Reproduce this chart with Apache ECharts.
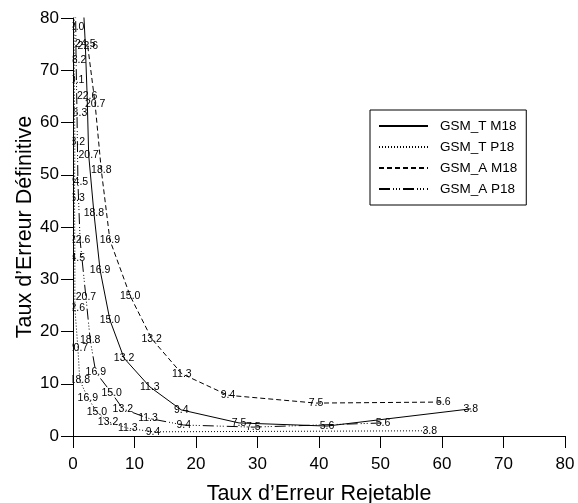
<!DOCTYPE html>
<html>
<head>
<meta charset="utf-8">
<script src="https://cdn.jsdelivr.net/npm/echarts@6/dist/echarts.min.js"></script>
<style>
  html, body { margin: 0; padding: 0; background: #fff; }
  #chart { width: 578px; height: 503px; }
</style>
</head>
<body>
<div id="chart"></div>
<script>
const FONT = '"Liberation Sans", Arial, Helvetica, sans-serif';

// Axis ticks
const xTicks = [0, 10, 20, 30, 40, 50, 60, 70, 80];
const yTicks = [0, 10, 20, 30, 40, 50, 60, 70, 80];

// GSM_T M18 : threshold, false reject rate (x), false accept rate (y)
const tM18Thr = ['26.3', '24.5', '22.6', '20.7', '18.8', '16.9', '15.0', '13.2', '11.3', '9.4', '7.5', '5.6', '3.8'];
const tM18X   = [1.7, 2.0, 2.3, 2.55, 3.4, 4.4, 6.0, 8.3, 12.5, 17.6, 27.0, 41.3, 64.7];
const tM18Y   = [82.0, 75.0, 65.1, 53.8, 42.7, 31.8, 22.2, 14.9, 9.4, 5.0, 2.5, 1.9, 5.2];

// GSM_T P18
const tP18Thr = ['33.9', '32.0', '30.1', '28.2', '26.3', '24.5', '22.6', '20.7', '18.8', '16.9', '15.0', '13.2', '11.3', '9.4', '3.8'];
const tP18X   = [0.2, 0.2, 0.2, 0.3, 0.25, 0.3, 0.3, 0.8, 1.1, 2.4, 3.9, 5.7, 8.9, 13.0, 58.0];
const tP18Y   = [86.0, 78.3, 68.1, 56.3, 45.6, 34.1, 24.5, 16.8, 10.7, 7.3, 4.6, 2.7, 1.5, 0.8, 1.0];

// GSM_A M18
const aM18Thr = ['22.6', '20.7', '18.8', '16.9', '15.0', '13.2', '11.3', '9.4', '7.5', '5.6'];
const aM18X   = [2.4, 3.6, 4.6, 6.0, 9.3, 12.8, 17.7, 25.2, 39.5, 60.2];
const aM18Y   = [74.6, 63.5, 50.9, 37.5, 26.8, 18.6, 11.9, 7.8, 6.3, 6.5];

// GSM_A P18
const aP18Thr = ['30.1', '28.2', '26.3', '24.5', '22.6', '20.7', '18.8', '16.9', '15.0', '13.2', '11.3', '9.4', '7.5', '5.6'];
const aP18X   = [0.4, 0.5, 0.65, 0.8, 1.15, 2.1, 2.8, 3.7, 6.3, 8.1, 12.2, 18.0, 29.3, 50.4];
const aP18Y   = [84.0, 72.0, 61.8, 48.6, 37.5, 26.6, 18.4, 12.2, 8.2, 5.2, 3.4, 2.1, 1.7, 2.5];

const Y_MAX = 80;
const GRID = { left: 73, right: 13, top: 18, bottom: 67 };

function makeSeries(name, thr, xs, ys, dash) {
  return {
    name: name,
    type: 'line',
    data: xs.map((x, i) => [x, ys[i], thr[i]]),
    symbol: 'circle',
    symbolSize: 0,
    itemStyle: { color: '#000' },
    lineStyle: { color: '#000', width: 1, type: dash },
    label: {
      show: true,
      position: 'inside',
      color: '#000',
      fontFamily: FONT,
      fontSize: 10.5,
      formatter: p => (p.value[1] > Y_MAX ? '' : p.value[2])
    },
    emphasis: { disabled: true },
    clip: true,
    z: 2,
    animation: false
  };
}

const chart = echarts.init(document.getElementById('chart'), null, { renderer: 'canvas' });

chart.setOption({
  backgroundColor: '#fff',
  animation: false,
  textStyle: { fontFamily: FONT },
  grid: Object.assign({ outerBoundsMode: 'none', containLabel: false }, GRID),
  legend: {
    orient: 'vertical',
    left: 370,
    top: 110,
    padding: [9, 9, 9, 8],
    borderColor: '#000',
    borderWidth: 1,
    itemWidth: 49,
    itemHeight: 14,
    itemGap: 7,
    itemStyle: { opacity: 0 },
    textStyle: { fontFamily: FONT, fontSize: 13.5, color: '#000', padding: [0, 0, 0, 7] },
    selectedMode: false,
    data: ['GSM_T M18', 'GSM_T P18', 'GSM_A M18', 'GSM_A P18']
  },
  xAxis: {
    type: 'value',
    min: xTicks[0],
    max: xTicks[xTicks.length - 1],
    interval: xTicks[1] - xTicks[0],
    z: 10,
    name: 'Taux d’Erreur Rejetable',
    nameLocation: 'middle',
    nameGap: 47,
    nameMoveOverlap: false,
    nameTextStyle: { fontFamily: FONT, fontSize: 21.5, color: '#000' },
    axisLine: { show: true, onZero: false, lineStyle: { color: '#000', width: 1 } },
    axisTick: { show: true, inside: false, length: 12, lineStyle: { color: '#000' } },
    axisLabel: { fontFamily: FONT, fontSize: 17, color: '#000', margin: 20 },
    splitLine: { show: false }
  },
  yAxis: {
    type: 'value',
    min: yTicks[0],
    max: yTicks[yTicks.length - 1],
    interval: yTicks[1] - yTicks[0],
    z: 10,
    name: 'Taux d’Erreur Définitive',
    nameLocation: 'middle',
    nameGap: 37,
    nameMoveOverlap: false,
    nameTextStyle: { fontFamily: FONT, fontSize: 21.5, color: '#000' },
    axisLine: { show: true, onZero: false, lineStyle: { color: '#000', width: 1 } },
    axisTick: { show: true, inside: false, length: 12, lineStyle: { color: '#000' } },
    axisLabel: { fontFamily: FONT, fontSize: 17, color: '#000', margin: 14 },
    splitLine: { show: false }
  },
  // white band left of the plot area: point labels sitting on the y axis are cut at the frame
  graphic: [{
    type: 'rect',
    z: 5,
    silent: true,
    shape: { x: GRID.left - 35, y: 0, width: 34.5, height: 503 - GRID.bottom - 6 },
    style: { fill: '#fff' }
  }],
  series: [
    makeSeries('GSM_T M18', tM18Thr, tM18X, tM18Y, 'solid'),
    makeSeries('GSM_T P18', tP18Thr, tP18X, tP18Y, [1, 2]),
    makeSeries('GSM_A M18', aM18Thr, aM18X, aM18Y, [5, 3]),
    makeSeries('GSM_A P18', aP18Thr, aP18X, aP18Y, [11, 3, 1, 2, 1, 2, 1, 3])
  ]
});
</script>
</body>
</html>
